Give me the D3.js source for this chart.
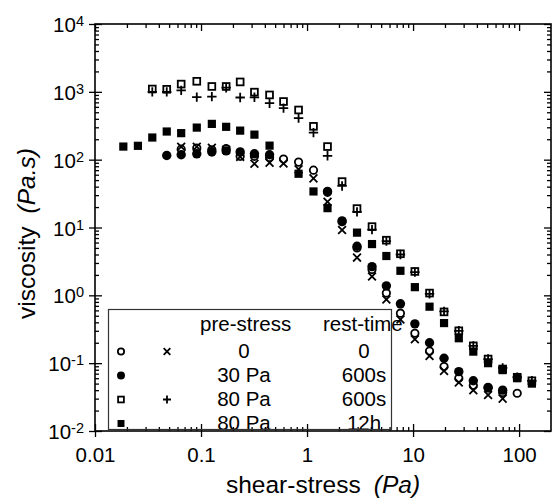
<!DOCTYPE html>
<html>
<head>
<meta charset="utf-8">
<script src="https://cdn.jsdelivr.net/npm/d3@7"></script>
<style>
  body { margin: 0; background: #fff; }
  svg { display: block; font-family: "Liberation Sans", Arial, sans-serif; }
</style>
</head>
<body>
<div id="chart"></div>
<script>
// shear stress (Pa), shared by all series; null = no point
const stress = [0.0185, 0.0254, 0.0347, 0.0475, 0.065, 0.0912, 0.1265, 0.1726, 0.234, 0.319,
  0.443, 0.600, 0.832, 1.15, 1.56, 2.14, 2.96, 4.1, 5.6, 7.6, 10.4, 14.3, 19.6, 27, 37, 51, 70, 96, 132];

const openCircle = [null, null, null, null, 143, 148, 140, 145, 112, 112, 108, 102, 92, 70, 33, 12.2,
  5.0, 2.4, 1.08, 0.545, 0.276, 0.151, 0.089, 0.06, 0.047, 0.043, 0.037, 0.036, null];
const cross = [null, null, null, null, 155, 155, 150, 140, 110, 87, 90, 88, 72, 53, 24, 9.2,
  3.6, 1.9, 0.87, 0.44, 0.225, 0.128, 0.077, 0.052, 0.040, 0.034, 0.030, null, null];
const filledCircle = [null, null, null, 115, 118, 122, 130, 135, 130, 122, 118, null, null, null, 34, 12.5,
  5.3, 2.65, 1.38, 0.75, 0.38, 0.2, 0.118, 0.075, 0.055, 0.044, 0.040, null, null];
const openSquare = [null, null, 1100, 1090, 1300, 1430, 1200, 1200, 1400, 990, 900, 720, 540, 310, 156, 47.5,
  19, 10.3, 6.5, 4.1, 2.25, 1.08, 0.57, 0.30, 0.18, 0.115, 0.082, 0.062, 0.055];
const plus = [null, null, 1000, 1000, 1050, 835, 850, 1150, 825, 830, 680, 575, 410, 250, 114, 41,
  17, 9.3, 6.3, 4.0, 2.2, 1.05, 0.58, 0.30, 0.18, 0.115, 0.085, 0.062, 0.055];
const filledSquare = [156, 160, 212, 260, 246, 297, 337, 305, 268, 234, 161, null, 62, 34, 19.3, null,
  8.4, 5.7, 3.8, 2.3, 1.32, 0.68, 0.39, 0.233, 0.148, 0.1, 0.079, 0.06, 0.05];

const xMajor = [0.01, 0.1, 1, 10, 100];
const yExponents = [-2, -1, 0, 1, 2, 3, 4];

// legend table
const legendHeader = ["pre-stress", "rest-time"];
const legendRows = [
  { marks: ["openCircle", "cross"], pre: "0", rest: "0" },
  { marks: ["filledCircle"], pre: "30 Pa", rest: "600s" },
  { marks: ["openSquare", "plus"], pre: "80 Pa", rest: "600s" },
  { marks: ["filledSquare"], pre: "80 Pa", rest: "12h" }
];

const W = 555, H = 499;
const margin = { top: 24, right: 4, bottom: 68, left: 95 };
const x0 = margin.left, x1 = W - margin.right, y0 = margin.top, y1 = H - margin.bottom;

const x = d3.scaleLog().domain([0.01, 200]).range([x0, x1]);
const y = d3.scaleLog().domain([0.01, 10000]).range([y1, y0]);

const svg = d3.select("#chart").append("svg").attr("width", W).attr("height", H);

// minor ticks: 2..9 in each decade
function minors(scale) {
  const [a, b] = scale.domain();
  return scale.ticks().filter(v => {
    const m = v / Math.pow(10, Math.floor(Math.log10(v) + 1e-9));
    return Math.round(m) !== 1 && v > a && v < b;
  });
}
const xMinor = minors(x);
const yMinor = minors(y);
const yMajor = yExponents.map(e => Math.pow(10, e));

function tickAxis(axis, tr) {
  const g = svg.append("g").attr("transform", tr).call(axis);
  g.select(".domain").remove();
  g.selectAll("line").attr("stroke", "#000").attr("stroke-width", 1.3);
  return g;
}

// bottom
tickAxis(d3.axisBottom(x).tickValues(xMinor).tickSize(-4).tickSizeOuter(0).tickFormat(""), `translate(0,${y1})`);
tickAxis(d3.axisBottom(x).tickValues(xMajor).tickSize(-7).tickSizeOuter(0).tickFormat(""), `translate(0,${y1})`);
const xb = tickAxis(d3.axisBottom(x).tickValues(xMajor).tickSize(6).tickSizeOuter(0).tickPadding(10)
  .tickFormat(d3.format("~g")), `translate(0,${y1})`);
xb.selectAll("text").attr("font-size", 20.5).attr("font-family", null).attr("fill", "#000");
// top
tickAxis(d3.axisTop(x).tickValues(xMinor).tickSize(-4).tickSizeOuter(0).tickFormat(""), `translate(0,${y0})`);
tickAxis(d3.axisTop(x).tickValues(xMajor).tickSize(-7).tickSizeOuter(0).tickFormat(""), `translate(0,${y0})`);
// left
tickAxis(d3.axisLeft(y).tickValues(yMinor).tickSize(-4).tickSizeOuter(0).tickFormat(""), `translate(${x0},0)`);
tickAxis(d3.axisLeft(y).tickValues(yMajor).tickSize(-7).tickSizeOuter(0).tickFormat(""), `translate(${x0},0)`);
tickAxis(d3.axisLeft(y).tickValues(yMajor).tickSize(6).tickSizeOuter(0).tickFormat(""), `translate(${x0},0)`);
// right
tickAxis(d3.axisRight(y).tickValues(yMinor).tickSize(-4).tickSizeOuter(0).tickFormat(""), `translate(${x1},0)`);
tickAxis(d3.axisRight(y).tickValues(yMajor).tickSize(-7).tickSizeOuter(0).tickFormat(""), `translate(${x1},0)`);

// frame
svg.append("rect").attr("x", x0).attr("y", y0).attr("width", x1 - x0).attr("height", y1 - y0)
  .attr("fill", "none").attr("stroke", "#000").attr("stroke-width", 1.6);

// y tick labels 10^n
const yl = svg.append("g").attr("font-size", 20.5).attr("fill", "#000");
yExponents.forEach(e => {
  const t = yl.append("text").attr("x", x0 - 11).attr("y", y(Math.pow(10, e)) + 8).attr("text-anchor", "end");
  t.append("tspan").text("10");
  t.append("tspan").attr("font-size", 14.5).attr("dy", -6).text(e);
});

// axis titles
const xt = svg.append("text").attr("x", (x0 + x1) / 2).attr("y", 493).attr("text-anchor", "middle")
  .attr("font-size", 24.5).attr("fill", "#000");
xt.append("tspan").text("shear-stress");
xt.append("tspan").attr("dx", 13).attr("font-style", "italic").text("(Pa)");

const yt = svg.append("text").attr("transform", `translate(35,${(y0 + y1) / 2 + 6}) rotate(-90)`)
  .attr("text-anchor", "middle").attr("font-size", 24.5).attr("fill", "#000");
yt.append("tspan").text("viscosity");
yt.append("tspan").attr("dx", 13).attr("font-style", "italic").text("(Pa.s)");

// markers
function marker(g, type, cx, cy, k) {
  const sw = 1.8;
  if (type === "openCircle") {
    g.append("circle").attr("cx", cx).attr("cy", cy).attr("r", 3.7 * k)
      .attr("fill", "none").attr("stroke", "#000").attr("stroke-width", sw);
  } else if (type === "filledCircle") {
    g.append("circle").attr("cx", cx).attr("cy", cy).attr("r", 4.7 * k).attr("fill", "#000");
  } else if (type === "openSquare") {
    const s = 6.8 * k;
    g.append("rect").attr("x", cx - s / 2).attr("y", cy - s / 2).attr("width", s).attr("height", s)
      .attr("fill", "none").attr("stroke", "#000").attr("stroke-width", sw);
  } else if (type === "filledSquare") {
    const s = 8.2 * k;
    g.append("rect").attr("x", cx - s / 2).attr("y", cy - s / 2).attr("width", s).attr("height", s).attr("fill", "#000");
  } else if (type === "cross") {
    const a = 3.9 * k;
    g.append("path").attr("d", `M${cx - a},${cy - a}L${cx + a},${cy + a}M${cx - a},${cy + a}L${cx + a},${cy - a}`)
      .attr("stroke", "#000").attr("stroke-width", sw).attr("fill", "none");
  } else if (type === "plus") {
    const a = 4.7 * k;
    g.append("path").attr("d", `M${cx - a},${cy}L${cx + a},${cy}M${cx},${cy - a}L${cx},${cy + a}`)
      .attr("stroke", "#000").attr("stroke-width", sw).attr("fill", "none");
  }
}

const seriesList = [
  ["filledSquare", filledSquare],
  ["filledCircle", filledCircle],
  ["openSquare", openSquare],
  ["plus", plus],
  ["openCircle", openCircle],
  ["cross", cross]
];
const marks = svg.append("g");
seriesList.forEach(([type, vals]) => {
  const g = marks.append("g").attr("class", type);
  vals.forEach((v, i) => {
    if (v != null) marker(g, type, x(stress[i]), y(v), 1);
  });
});

// legend
const lg = svg.append("g").attr("font-size", 20.5).attr("fill", "#000");
lg.append("text").attr("x", 200).attr("y", 331).text(legendHeader[0]);
lg.append("text").attr("x", 323).attr("y", 331).text(legendHeader[1]);
legendRows.forEach((r, i) => {
  const by = 358 + i * 24;
  r.marks.forEach((m, j) => marker(lg, m, 121 + j * 46, by - 6.5, 0.85));
  lg.append("text").attr("x", 244).attr("y", by).attr("text-anchor", "middle").text(r.pre);
  lg.append("text").attr("x", 364).attr("y", by).attr("text-anchor", "middle").text(r.rest);
});
lg.append("rect").attr("x", 108.5).attr("y", 309.5).attr("width", 283).attr("height", 120)
  .attr("fill", "none").attr("stroke", "#333").attr("stroke-width", 1.2);
</script>
</body>
</html>
